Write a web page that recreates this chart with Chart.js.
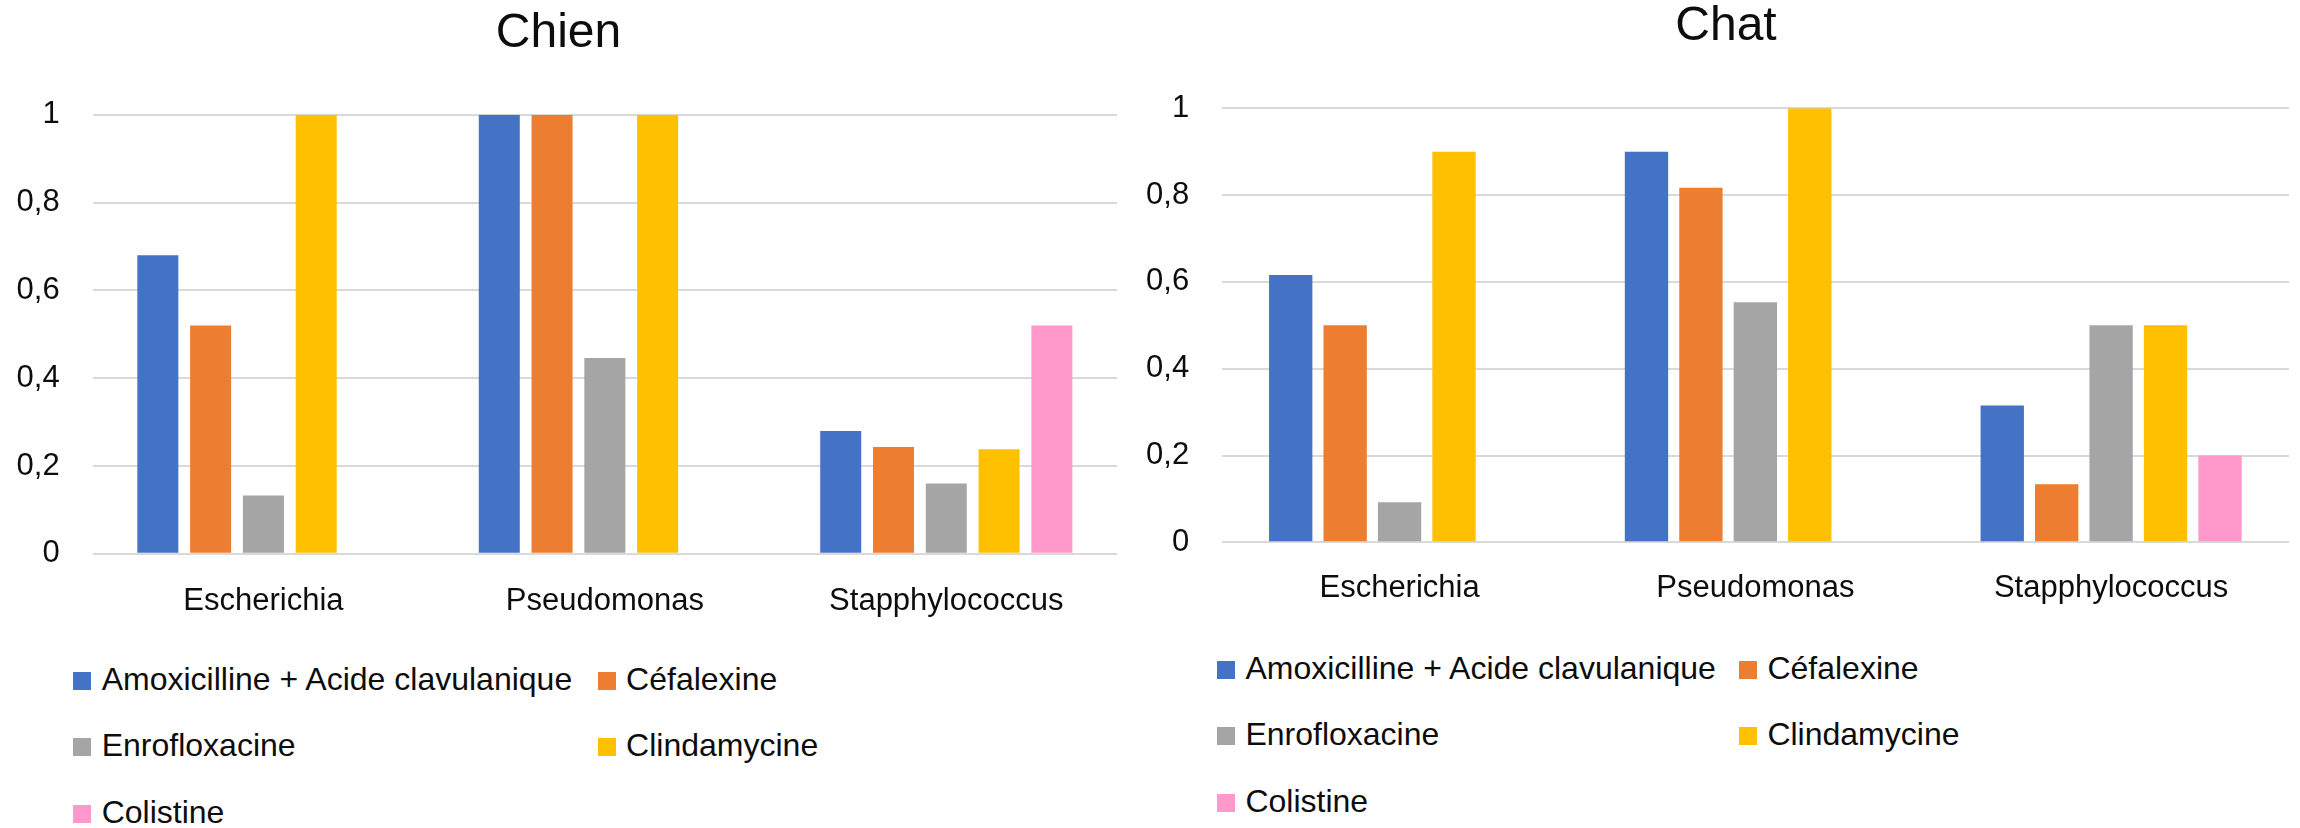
<!DOCTYPE html>
<html lang="fr">
<head>
<meta charset="utf-8">
<title>Chien / Chat</title>
<script src="https://cdn.jsdelivr.net/npm/chart.js@4.4.1/dist/chart.umd.min.js"></script>
<style>
  html, body { margin: 0; padding: 0; background: #fff; }
  body { width: 2300px; height: 828px; position: relative; overflow: hidden; font-family: "Liberation Sans", Arial, sans-serif; }
  canvas { position: absolute; top: 0; }
  #cv-chien { left: 0; }
  #cv-chat { left: 1120px; }
  .legend-item { position: absolute; white-space: nowrap; font-size: 32px; line-height: 32px; color: #0d0d0d; }
  .legend-item i { position: absolute; left: -28.4px; top: 9.1px; width: 18px; height: 18px; }
</style>
</head>
<body>
<canvas id="cv-chien" width="1166" height="624"></canvas>
<canvas id="cv-chat" width="1180" height="612"></canvas>
<div id="lg-chien"></div>
<div id="lg-chat"></div>
<script>
// Categories, series names and tick labels
const categories = ['Escherichia', 'Pseudomonas', 'Stapphylococcus'];
const antibiotics = ['Amoxicilline + Acide clavulanique', 'Céfalexine', 'Enrofloxacine', 'Clindamycine', 'Colistine'];
const yTickLabels = ['0', '0,2', '0,4', '0,6', '0,8', '1'];
const seriesColors = ['#4472C4', '#ED7D31', '#A5A5A5', '#FFC000', '#FF99CC'];

// Chien values per antibiotic (Escherichia, Pseudomonas, Stapphylococcus)
const chienAmoxiClav     = [0.68, 1.00, 0.28];
const chienCefalexine    = [0.52, 1.00, 0.243];
const chienEnrofloxacine = [0.133, 0.446, 0.16];
const chienClindamycine  = [1.00, 1.00, 0.238];
const chienColistine     = [null, null, 0.52];

// Chat values per antibiotic
const chatAmoxiClav     = [0.616, 0.90, 0.315];
const chatCefalexine    = [0.50, 0.817, 0.134];
const chatEnrofloxacine = [0.092, 0.553, 0.50];
const chatClindamycine  = [0.90, 1.00, 0.50];
const chatColistine     = [null, null, 0.20];

const TEXT = '#0d0d0d';
const FONT = '"Liberation Sans", Arial, sans-serif';

// Moves the title block sideways after layout (title is otherwise centred on the canvas)
const titleShift = {
  id: 'titleShift',
  afterLayout(chart, args, opts) {
    const t = chart.titleBlock;
    if (t && opts.dx) { t.left += opts.dx; t.right += opts.dx; }
  }
};

function makeChart(canvasId, legendId, title, series, g) {
  const datasets = series.map((values, i) => ({
    label: antibiotics[i],
    data: values,
    backgroundColor: seriesColors[i],
    borderWidth: 0,
    categoryPercentage: g.catPct,
    barPercentage: g.barPct
  }));

  const chart = new Chart(document.getElementById(canvasId), {
    type: 'bar',
    data: { labels: categories, datasets },
    plugins: [titleShift],
    options: {
      responsive: false,
      animation: false,
      events: [],
      layout: { padding: g.padding },
      plugins: {
        legend: { display: false },
        tooltip: { enabled: false },
        titleShift: { dx: g.titleDx },
        title: {
          display: true,
          text: title,
          color: TEXT,
          font: { family: FONT, size: 48, weight: 'normal', lineHeight: 1.1 },
          padding: g.titlePad
        }
      },
      scales: {
        x: {
          grid: { display: false, drawTicks: false },
          border: { display: false },
          ticks: { color: TEXT, font: { family: FONT, size: 31 }, padding: g.xTickPad, maxRotation: 0 },
          afterFit(scale) { scale.height = g.xAxisHeight; }
        },
        y: {
          min: 0, max: 1,
          grid: { color: '#d9d9d9', lineWidth: 2, drawTicks: false },
          border: { display: false },
          ticks: {
            stepSize: 0.2,
            color: TEXT,
            font: { family: FONT, size: 31 },
            padding: g.yTickPad,
            callback: (v, i) => yTickLabels[i]
          },
          afterFit(scale) { scale.width = g.yAxisWidth; }
        }
      }
    }
  });

  // Two-column legend built from the chart's datasets
  const lg = document.getElementById(legendId);
  chart.data.datasets.forEach((ds, i) => {
    const col = i % 2, row = Math.floor(i / 2);
    const item = document.createElement('div');
    item.className = 'legend-item';
    item.style.left = (g.legendCols[col] + 28.4) + 'px';
    item.style.top = (g.legendBaselines[row] - 27.1) + 'px';
    const box = document.createElement('i');
    box.style.background = ds.backgroundColor;
    item.appendChild(box);
    item.appendChild(document.createTextNode(ds.label));
    lg.appendChild(item);
  });
  return chart;
}

makeChart('cv-chien', 'lg-chien', 'Chien',
  [chienAmoxiClav, chienCefalexine, chienEnrofloxacine, chienClindamycine, chienColistine],
  {
    padding: { left: 0, right: 49, top: 0, bottom: 0 },
    titleDx: 0,
    titlePad: { top: 7.8, bottom: 54.2 },
    yAxisWidth: 92.7, xAxisHeight: 70.2,
    xTickPad: 29.1, yTickPad: 33,
    catPct: 0.773, barPct: 0.777,
    legendCols: [73.3, 597.7],
    legendBaselines: [690, 756.5, 823]
  });

makeChart('cv-chat', 'lg-chat', 'Chat',
  [chatAmoxiClav, chatCefalexine, chatEnrofloxacine, chatClindamycine, chatColistine],
  {
    padding: { left: 0, right: 11, top: 0, bottom: 0 },
    titleDx: 21.5,
    titlePad: { top: 0.5, bottom: 55 },
    yAxisWidth: 101.7, xAxisHeight: 69.7,
    xTickPad: 27.2, yTickPad: 32.5,
    catPct: 0.765, barPct: 0.796,
    legendCols: [1217, 1739],
    legendBaselines: [679, 745.5, 812]
  });
</script>
</body>
</html>
